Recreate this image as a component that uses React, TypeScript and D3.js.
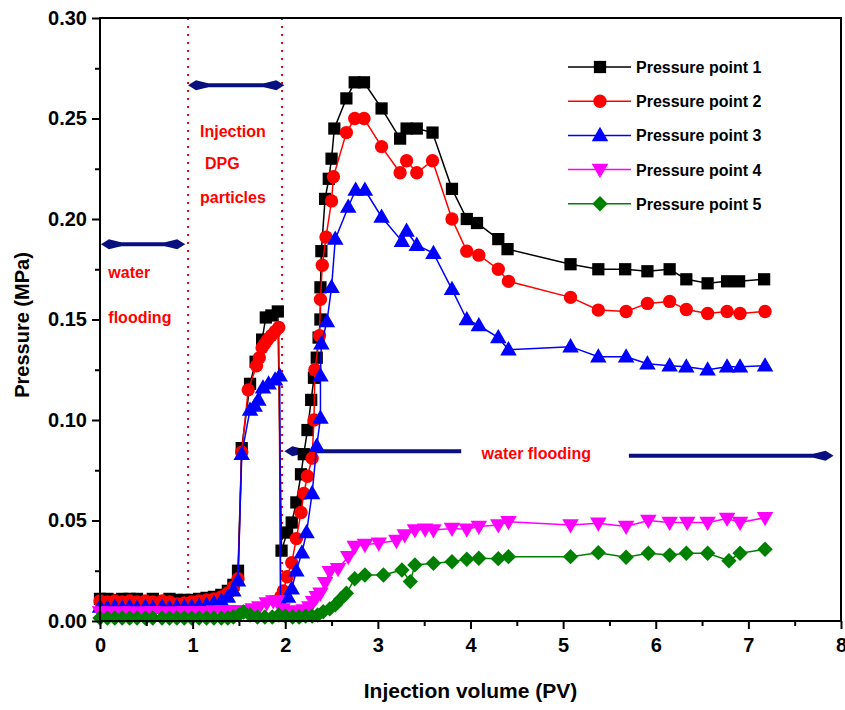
import { useEffect, useRef } from 'react';
import * as d3 from 'd3';

// Pressure (MPa) vs injection volume (PV) for five pressure taps
const point1: [number, number][] = [
  [0, 0.011], [0.08, 0.011], [0.16, 0.0105], [0.24, 0.011], [0.32, 0.011], [0.4, 0.011], [0.49, 0.0085],
  [0.57, 0.011], [0.67, 0.0085], [0.75, 0.011], [0.83, 0.0105], [0.91, 0.0105], [0.99, 0.0105], [1.07, 0.011],
  [1.15, 0.0115], [1.23, 0.012], [1.31, 0.013], [1.38, 0.015], [1.44, 0.018], [1.49, 0.025],
  [1.53, 0.086], [1.62, 0.118], [1.68, 0.129], [1.75, 0.14], [1.79, 0.151], [1.85, 0.152], [1.92, 0.154],
  [1.96, 0.035], [2.02, 0.044], [2.07, 0.049], [2.12, 0.059], [2.17, 0.073], [2.2, 0.083], [2.24, 0.095],
  [2.28, 0.11], [2.31, 0.121], [2.34, 0.131], [2.36, 0.141], [2.38, 0.15], [2.38, 0.166], [2.39, 0.184],
  [2.43, 0.21], [2.47, 0.22], [2.5, 0.23], [2.53, 0.245], [2.66, 0.26], [2.75, 0.268], [2.85, 0.268],
  [3.04, 0.255], [3.24, 0.24], [3.31, 0.245], [3.42, 0.245], [3.59, 0.243], [3.8, 0.215], [3.96, 0.2],
  [4.07, 0.198], [4.3, 0.19], [4.4, 0.185], [5.08, 0.1775], [5.38, 0.175], [5.67, 0.175], [5.91, 0.174],
  [6.15, 0.175], [6.33, 0.17], [6.56, 0.168], [6.77, 0.169], [6.9, 0.169], [7.17, 0.17],
];

const point2: [number, number][] = [
  [0, 0.01], [0.08, 0.0095], [0.16, 0.01], [0.24, 0.0095], [0.32, 0.01], [0.4, 0.0095], [0.49, 0.01],
  [0.57, 0.0095], [0.67, 0.01], [0.75, 0.0095], [0.83, 0.0085], [0.91, 0.009], [0.99, 0.0095], [1.07, 0.01],
  [1.15, 0.0105], [1.23, 0.011], [1.31, 0.012], [1.38, 0.014], [1.44, 0.017], [1.49, 0.021],
  [1.53, 0.084], [1.6, 0.115], [1.69, 0.127], [1.72, 0.131], [1.75, 0.136], [1.78, 0.138], [1.81, 0.14],
  [1.85, 0.142], [1.89, 0.144], [1.93, 0.146],
  [1.95, 0.012], [1.98, 0.015], [2.02, 0.022], [2.07, 0.029], [2.12, 0.041], [2.17, 0.054], [2.2, 0.0635],
  [2.24, 0.072], [2.29, 0.081], [2.31, 0.1], [2.32, 0.125], [2.37, 0.142], [2.38, 0.16], [2.4, 0.177],
  [2.44, 0.191], [2.5, 0.209], [2.52, 0.221], [2.66, 0.243], [2.75, 0.25], [2.85, 0.25], [3.04, 0.236],
  [3.24, 0.223], [3.31, 0.229], [3.42, 0.223], [3.59, 0.229], [3.8, 0.2], [3.96, 0.184], [4.09, 0.182],
  [4.3, 0.175], [4.41, 0.169], [5.08, 0.161], [5.38, 0.1547], [5.68, 0.154], [5.91, 0.158], [6.15, 0.159],
  [6.33, 0.155], [6.56, 0.153], [6.77, 0.154], [6.91, 0.153], [7.18, 0.154],
];

const point3: [number, number][] = [
  [0, 0.007], [0.08, 0.0065], [0.16, 0.007], [0.24, 0.0065], [0.32, 0.007], [0.4, 0.0065], [0.49, 0.007],
  [0.57, 0.0065], [0.67, 0.007], [0.75, 0.0065], [0.83, 0.007], [0.91, 0.007], [0.99, 0.007], [1.07, 0.0075],
  [1.15, 0.008], [1.23, 0.009], [1.31, 0.01], [1.38, 0.012], [1.44, 0.015], [1.49, 0.02],
  [1.53, 0.083], [1.62, 0.105], [1.67, 0.107], [1.71, 0.11], [1.76, 0.116], [1.82, 0.118], [1.89, 0.12],
  [1.94, 0.122],
  [1.95, 0.004], [1.98, 0.007], [2.03, 0.012], [2.07, 0.016], [2.12, 0.025], [2.18, 0.034], [2.23, 0.044],
  [2.29, 0.0635], [2.34, 0.087], [2.38, 0.101], [2.38, 0.122], [2.39, 0.138], [2.45, 0.149], [2.5, 0.166],
  [2.54, 0.19], [2.68, 0.206], [2.76, 0.2144], [2.86, 0.2144], [3.04, 0.201], [3.26, 0.189], [3.31, 0.194],
  [3.42, 0.187], [3.6, 0.183], [3.8, 0.165], [3.96, 0.15], [4.09, 0.147], [4.3, 0.141], [4.41, 0.135],
  [5.08, 0.1365], [5.38, 0.1315], [5.68, 0.1315], [5.91, 0.128], [6.15, 0.127], [6.33, 0.1265],
  [6.56, 0.125], [6.77, 0.1265], [6.91, 0.1265], [7.18, 0.127],
];

const point4: [number, number][] = [
  [0, 0.0045], [0.08, 0.0045], [0.16, 0.004], [0.24, 0.0045], [0.32, 0.0045], [0.4, 0.004], [0.49, 0.0045],
  [0.57, 0.0045], [0.67, 0.0045], [0.75, 0.004], [0.83, 0.0045], [0.91, 0.0045], [0.99, 0.0045], [1.07, 0.0045],
  [1.15, 0.0045], [1.23, 0.005], [1.31, 0.005], [1.38, 0.005], [1.44, 0.005], [1.5, 0.005], [1.58, 0.005],
  [1.65, 0.006], [1.72, 0.007], [1.8, 0.009], [1.87, 0.01], [1.91, 0.01], [1.97, 0.006], [2.05, 0.0046],
  [2.12, 0.005], [2.2, 0.0055], [2.26, 0.007], [2.3, 0.0096], [2.34, 0.012], [2.38, 0.0138], [2.43, 0.019],
  [2.48, 0.0245], [2.57, 0.026], [2.68, 0.032], [2.75, 0.037], [2.86, 0.038], [3.01, 0.0387], [3.2, 0.04],
  [3.29, 0.0428], [3.4, 0.0453], [3.51, 0.0457], [3.6, 0.0453], [3.8, 0.046], [3.96, 0.0456], [4.09, 0.047],
  [4.3, 0.0478], [4.41, 0.0494], [5.08, 0.0478], [5.38, 0.0486], [5.68, 0.047], [5.92, 0.05], [6.15, 0.049],
  [6.34, 0.049], [6.56, 0.049], [6.77, 0.051], [6.91, 0.049], [7.18, 0.0514],
];

const point5: [number, number][] = [
  [0, 0.0015], [0.08, 0.0015], [0.16, 0.0015], [0.24, 0.0015], [0.32, 0.0015], [0.4, 0.0015], [0.49, 0.0015],
  [0.57, 0.0015], [0.67, 0.0015], [0.75, 0.0015], [0.83, 0.0015], [0.91, 0.0015], [0.99, 0.0015], [1.07, 0.0015],
  [1.15, 0.0015], [1.23, 0.0015], [1.31, 0.0015], [1.38, 0.0015], [1.44, 0.002], [1.5, 0.003], [1.55, 0.0045],
  [1.62, 0.003], [1.7, 0.002], [1.78, 0.002], [1.86, 0.002], [1.93, 0.003], [2.0, 0.0025], [2.08, 0.002],
  [2.15, 0.002], [2.22, 0.0025], [2.29, 0.0025], [2.35, 0.003], [2.41, 0.0046], [2.48, 0.006], [2.54, 0.008],
  [2.6, 0.011], [2.66, 0.0138], [2.75, 0.021], [2.86, 0.0229], [3.06, 0.0229], [3.26, 0.0254], [3.35, 0.0196],
  [3.4, 0.0279], [3.6, 0.0287], [3.8, 0.0295], [3.96, 0.0307], [4.09, 0.0312], [4.3, 0.031], [4.41, 0.032],
  [5.08, 0.032], [5.38, 0.034], [5.68, 0.0317], [5.92, 0.0337], [6.15, 0.0328], [6.33, 0.0337], [6.56, 0.0337],
  [6.79, 0.03], [6.91, 0.0337], [7.18, 0.0357],
];

const seriesNames = ['Pressure point 1', 'Pressure point 2', 'Pressure point 3', 'Pressure point 4', 'Pressure point 5'];
const seriesColors = ['#000000', '#ff0000', '#0000ff', '#ff00ff', '#008000'];
const seriesShapes = ['square', 'circle', 'triangle', 'triangleDown', 'diamond'];

const xTicks = [0, 1, 2, 3, 4, 5, 6, 7, 8];
const yTicks = [0, 0.05, 0.1, 0.15, 0.2, 0.25, 0.3];

// stage boundaries (PV) and annotation arrows, in data units
const stageLines = [0.95, 1.965];
const arrows = [
  { x0: 0.01, x1: 0.92, y: 0.1875, left: true, right: true },
  { x0: 0.95, x1: 1.99, y: 0.2665, left: true, right: true },
  { x0: 1.99, x1: 3.9, y: 0.0845, left: true, right: false },
  { x0: 5.71, x1: 7.92, y: 0.0822, left: false, right: true },
];
const notes = [
  { text: 'water', x: 0.09, y: 0.1704 },
  { text: 'flooding', x: 0.09, y: 0.1485 },
  { text: 'Injection', x: 1.08, y: 0.2408 },
  { text: 'DPG', x: 1.134, y: 0.2249 },
  { text: 'particles', x: 1.08, y: 0.208 },
  { text: 'water flooding', x: 4.12, y: 0.0806 },
];

const FONT = 'Arial, "Liberation Sans", sans-serif';

const App = () => {
  const svgRef = useRef<SVGSVGElement>(null);

  useEffect(() => {
    const svg = d3.select(svgRef.current);
    svg.selectAll('*').remove();

    const left = 100, right = 841, top = 18, bottom = 621;
    const x = d3.scaleLinear().domain([0, 8]).range([left, right]);
    const y = d3.scaleLinear().domain([0, 0.3]).range([bottom, top]);

    const symbolPath = (shape: string) => {
      if (shape === 'square') return d3.symbol(d3.symbolSquare, 150)();
      if (shape === 'circle') return d3.symbol(d3.symbolCircle, 140)();
      if (shape === 'diamond') return d3.symbol(d3.symbolSquare, 118)();
      return d3.symbol(d3.symbolTriangle, 118)();
    };
    const symbolTransform = (shape: string, px: number, py: number) => {
      if (shape === 'diamond') return `translate(${px},${py}) rotate(45)`;
      if (shape === 'triangleDown') return `translate(${px},${py - 1}) rotate(180)`;
      if (shape === 'triangle') return `translate(${px},${py + 1})`;
      return `translate(${px},${py})`;
    };

    // red dotted stage boundaries
    svg.append('g')
      .selectAll('line')
      .data(stageLines)
      .enter()
      .append('line')
      .attr('x1', d => x(d))
      .attr('x2', d => x(d))
      .attr('y1', top)
      .attr('y2', bottom)
      .attr('stroke', '#ff0000')
      .attr('stroke-width', 2)
      .attr('stroke-dasharray', '2,6');

    // navy arrows
    const navy = '#0a0f80';
    const arrowG = svg.append('g');
    arrows.forEach(a => {
      const x0 = x(a.x0), x1 = x(a.x1), yy = y(a.y);
      arrowG.append('line')
        .attr('x1', x0 + (a.left ? 6 : 0))
        .attr('x2', x1 - (a.right ? 6 : 0))
        .attr('y1', yy)
        .attr('y2', yy)
        .attr('stroke', navy)
        .attr('stroke-width', 4);
      const head = (tip: number, dir: number) =>
        `M${tip},${yy} L${tip + dir * 8},${yy - 5} L${tip + dir * 20},${yy - 2} L${tip + dir * 20},${yy + 2} L${tip + dir * 8},${yy + 5} Z`;
      if (a.left) arrowG.append('path').attr('d', head(x0, 1)).attr('fill', navy);
      if (a.right) arrowG.append('path').attr('d', head(x1, -1)).attr('fill', navy);
    });

    // red notes
    svg.append('g')
      .selectAll('text')
      .data(notes)
      .enter()
      .append('text')
      .attr('x', d => x(d.x))
      .attr('y', d => y(d.y))
      .attr('fill', '#ff0000')
      .style('font-family', FONT)
      .style('font-weight', 'bold')
      .style('font-size', '16px')
      .text(d => d.text);

    // series
    const allSeries = [point1, point2, point3, point4, point5];
    const line = d3.line<[number, number]>().x(d => x(d[0])).y(d => y(d[1]));
    allSeries.forEach((data, i) => {
      const g = svg.append('g');
      g.append('path')
        .attr('d', line(data))
        .attr('fill', 'none')
        .attr('stroke', seriesColors[i])
        .attr('stroke-width', 1.5);
      g.selectAll('path.mk')
        .data(data)
        .enter()
        .append('path')
        .attr('class', 'mk')
        .attr('d', symbolPath(seriesShapes[i]))
        .attr('transform', d => symbolTransform(seriesShapes[i], x(d[0]), y(d[1])))
        .attr('fill', seriesColors[i]);
    });

    // frame
    svg.append('rect')
      .attr('x', left)
      .attr('y', top)
      .attr('width', right - left)
      .attr('height', bottom - top)
      .attr('fill', 'none')
      .attr('stroke', '#000')
      .attr('stroke-width', 2);

    // x axis
    const xAxis = svg.append('g')
      .attr('transform', `translate(0,${bottom})`)
      .call(d3.axisBottom(x).tickValues(xTicks).tickFormat(d3.format('d')).tickSize(8).tickSizeOuter(0));
    const xMinor = svg.append('g')
      .attr('transform', `translate(0,${bottom})`)
      .call(d3.axisBottom(x).tickValues(d3.range(0.5, 8, 1)).tickFormat(() => '').tickSize(5).tickSizeOuter(0));

    // y axis
    const yAxis = svg.append('g')
      .attr('transform', `translate(${left},0)`)
      .call(d3.axisLeft(y).tickValues(yTicks).tickFormat(d3.format('.2f')).tickSize(8).tickSizeOuter(0));
    const yMinor = svg.append('g')
      .attr('transform', `translate(${left},0)`)
      .call(d3.axisLeft(y).tickValues(d3.range(0.025, 0.3, 0.05)).tickFormat(() => '').tickSize(5).tickSizeOuter(0));

    [xAxis, xMinor, yAxis, yMinor].forEach(ax => {
      ax.select('.domain').remove();
      ax.selectAll('line').attr('stroke', '#000').attr('stroke-width', 2);
      ax.selectAll('text')
        .attr('fill', '#000')
        .style('font-family', FONT)
        .style('font-weight', 'bold')
        .style('font-size', '20px');
    });
    xAxis.selectAll('text').attr('dy', '1.0em');
    yAxis.selectAll('text').attr('x', -13);

    // axis titles
    svg.append('text')
      .attr('x', (left + right) / 2)
      .attr('y', 698)
      .attr('text-anchor', 'middle')
      .style('font-family', FONT)
      .style('font-weight', 'bold')
      .style('font-size', '21px')
      .text('Injection volume (PV)');

    svg.append('text')
      .attr('transform', 'rotate(-90)')
      .attr('x', -325)
      .attr('y', 29)
      .attr('text-anchor', 'middle')
      .style('font-family', FONT)
      .style('font-weight', 'bold')
      .style('font-size', '20px')
      .text('Pressure (MPa)');

    // legend
    const legend = svg.append('g').attr('transform', 'translate(568,67)');
    seriesNames.forEach((name, i) => {
      const row = legend.append('g').attr('transform', `translate(0,${i * 34.2})`);
      row.append('line')
        .attr('x1', 0)
        .attr('x2', 63)
        .attr('y1', 0)
        .attr('y2', 0)
        .attr('stroke', seriesColors[i])
        .attr('stroke-width', 1.5);
      row.append('path')
        .attr('d', symbolPath(seriesShapes[i]))
        .attr('transform', symbolTransform(seriesShapes[i], 32, 0))
        .attr('fill', seriesColors[i]);
      row.append('text')
        .attr('x', 68)
        .attr('y', 6)
        .style('font-family', FONT)
        .style('font-weight', 'bold')
        .style('font-size', '16px')
        .text(name);
    });
  }, []);

  return (
    <svg
      ref={svgRef}
      width={845}
      height={710}
      style={{ position: 'absolute', left: 0, top: 0, background: '#fff' }}
    ></svg>
  );
};

export default App;
